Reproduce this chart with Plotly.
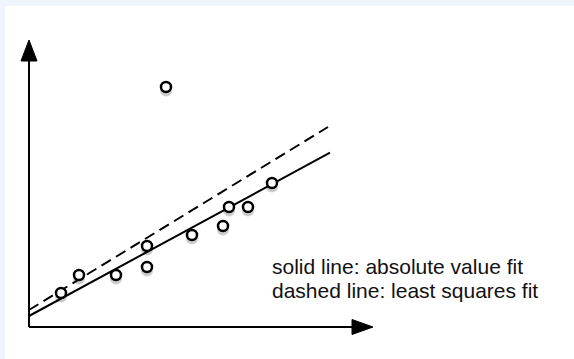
import plotly.graph_objects as go

# observed points (arbitrary units, origin at the axis corner)
pts_x = [3.2, 5.0, 8.7, 11.8, 11.8, 13.7, 16.3, 19.4, 20.0, 21.9, 24.3]
pts_y = [3.4, 5.2, 5.2, 8.1, 6.0, 24.0, 9.2, 10.1, 12.0, 12.0, 14.4]

# fitted lines, end points
abs_fit_x = [0, 30.1]
abs_fit_y = [1.1, 17.43]
lsq_fit_x = [0, 29.9]
lsq_fit_y = [1.7, 20.0]

fig = go.Figure()

# axes with arrows
fig.add_trace(go.Scatter(x=[0, 0], y=[0, 26.7], mode='lines',
                         line=dict(color='black', width=2), hoverinfo='skip'))
fig.add_trace(go.Scatter(x=[0, 32.4], y=[0, 0], mode='lines',
                         line=dict(color='black', width=2), hoverinfo='skip'))
fig.add_shape(type='path', xref='x', yref='y',
              path='M -0.8 26.6 L 0.8 26.6 L 0 28.7 Z',
              fillcolor='black', line=dict(color='black', width=1))
fig.add_shape(type='path', xref='x', yref='y',
              path='M 32.3 0.75 L 32.3 -0.75 L 34.4 0 Z',
              fillcolor='black', line=dict(color='black', width=1))

fig.add_trace(go.Scatter(x=lsq_fit_x, y=lsq_fit_y, mode='lines',
                         line=dict(color='black', width=2, dash='11px,6px')))
fig.add_trace(go.Scatter(x=abs_fit_x, y=abs_fit_y, mode='lines',
                         line=dict(color='black', width=2)))
# soft drop shadow under the circles
fig.add_trace(go.Scatter(x=pts_x, y=[v - 0.35 for v in pts_y], mode='markers',
                         marker=dict(size=12, color='rgba(0,0,0,0.2)',
                                     line=dict(width=0))))
fig.add_trace(go.Scatter(x=pts_x, y=pts_y, mode='markers',
                         marker=dict(size=10, color='white',
                                     line=dict(color='black', width=2.5))))

fig.add_annotation(x=24.1, y=(327 - 266) / 10, xanchor='left', yanchor='middle',
                   text='solid line: absolute value fit', showarrow=False,
                   font=dict(size=21, color='#111111', family='Liberation Sans'))
fig.add_annotation(x=24.1, y=(327 - 290) / 10, xanchor='left', yanchor='middle',
                   text='dashed line: least squares fit', showarrow=False,
                   font=dict(size=21, color='#111111', family='Liberation Sans'))

fig.update_xaxes(range=[-2.4, 54.5], visible=False)
fig.update_yaxes(range=[-3.2, 32.1], visible=False)
fig.update_layout(width=574, height=359, showlegend=False,
                  margin=dict(l=5, r=0, t=6, b=0),
                  paper_bgcolor='#f0f4fc', plot_bgcolor='white')

fig.write_html("out.html", config={'displayModeBar': False},
               post_script="document.body.style.margin='0px';")
